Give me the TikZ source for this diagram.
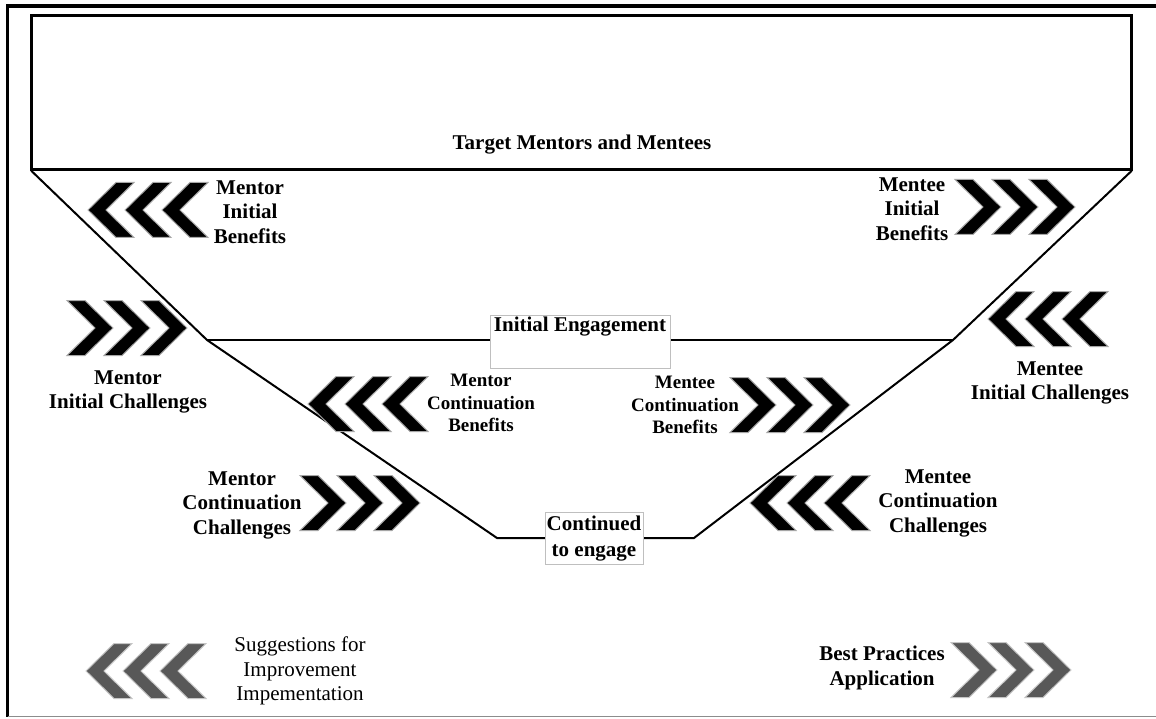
\documentclass[tikz,border=0pt]{standalone}
\usepackage{fontspec}
\setmainfont{Liberation Serif}
\begin{document}
\begin{tikzpicture}[x=1pt,y=-1pt,
  lbl/.style={font=\fontsize{21}{24.5}\selectfont\bfseries, align=center, inner sep=0pt},
  lblsmall/.style={font=\fontsize{19}{22.5}\selectfont\bfseries, align=center, inner sep=0pt},
  lblreg/.style={font=\fontsize{21}{24.5}\selectfont, align=center, inner sep=0pt},
  funnel/.style={line width=2pt, line join=miter},
  stagebox/.style={draw=black!25, line width=0.6pt, fill=white, inner sep=0pt},
  chevfill/.style={fill=#1, draw=#1!35, line width=1pt, line join=miter},
  chevR/.pic={
    \foreach \dx in {0,37,74}
      \path[chevfill=#1] (\dx,-27.5) -- ++(18,0) -- ++(28,27.5) -- ++(-28,27.5) -- ++(-18,0) -- ++(28,-27.5) -- cycle;
  },
  chevL/.pic={
    \foreach \dx in {0,37,74}
      \path[chevfill=#1] (\dx+46,-27.5) -- ++(-18,0) -- ++(-28,27.5) -- ++(28,27.5) -- ++(18,0) -- ++(-28,-27.5) -- cycle;
  }]
\definecolor{chevgray}{RGB}{88,88,88}
\useasboundingbox (0,0) rectangle (1156,719);
\fill[white] (0,0) rectangle (1156,719);

% outer frame
\draw[line width=3.5pt] (1156,6) -- (7.5,6) -- (7.5,717);
\draw[line width=1.5pt, black!45] (7.5,716.5) -- (1156,716.5);

% target population box
\node[draw, line width=2.5pt, minimum width=1100pt, minimum height=154pt, inner sep=0pt] (target) at (581.5,92.5) {};
\node[lbl] (targettxt) at (582,145) {Target Mentors and Mentees};

% funnel outline
\coordinate (ml) at (207,340);
\coordinate (mr) at (953,340);
\coordinate (bl) at (497,538);
\coordinate (br) at (694,538);
\draw[funnel] ([xshift=1pt]target.south west) -- (ml) -- (bl) -- (br) -- (mr) -- ([xshift=-1pt]target.south east);
\draw[funnel] (ml) -- (mr);

% stage labels
\node[stagebox, minimum width=180pt, minimum height=53pt] (iebox) at (580,341.5) {};
\node[lbl] (ie) at (580,327) {Initial Engagement};
\node[stagebox, minimum width=98pt, minimum height=52pt] (cebox) at (594,538) {};
\node[lbl, font=\fontsize{21}{26}\selectfont\bfseries] (ce) at (594,539) {Continued\\ to engage};

% chevron groups
\pic at (88,210) {chevL=black};
\pic at (955,207) {chevR=black};
\pic at (67,328) {chevR=black};
\pic at (988,319) {chevL=black};
\pic at (308,404) {chevL=black};
\pic at (730,405) {chevR=black};
\pic at (300,503) {chevR=black};
\pic at (750,503) {chevL=black};
\pic at (86,671) {chevL=chevgray};
\pic at (951,670) {chevR=chevgray};

% chevron captions
\node[lbl] (mib) at (250,212) {Mentor\\Initial\\Benefits};
\node[lbl] (eib) at (912,209) {Mentee\\Initial\\Benefits};
\node[lbl] (mic) at (128,392) {Mentor\\Initial Challenges};
\node[lbl] (eic) at (1050,383) {Mentee\\Initial Challenges};
\node[lblsmall] (mcb) at (481,403) {Mentor\\Continuation\\Benefits};
\node[lblsmall] (ecb) at (685,405) {Mentee\\Continuation\\Benefits};
\node[lbl] (mcc) at (242,505) {Mentor\\Continuation\\Challenges};
\node[lbl] (ecc) at (938,503) {Mentee\\Continuation\\Challenges};
\node[lblreg] (sug) at (300,671) {Suggestions for\\Improvement\\Impementation};
\node[lbl] (best) at (882,668) {Best Practices\\Application};
\end{tikzpicture}
\end{document}
